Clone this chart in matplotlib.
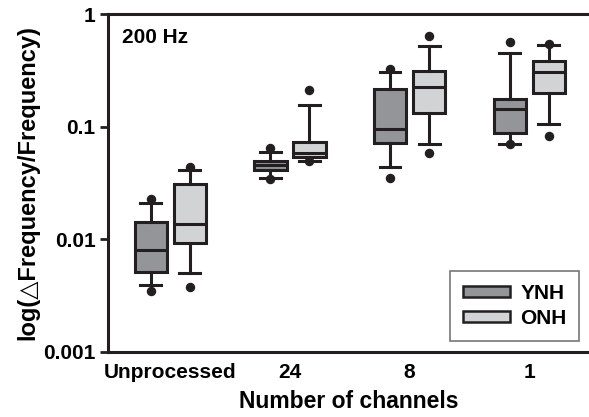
import matplotlib
matplotlib.use('Agg')
import matplotlib.pyplot as plt
from matplotlib.patches import Patch
import numpy as np

plt.rcParams['font.family'] = ['Liberation Sans', 'DejaVu Sans']
plt.rcParams['font.weight'] = 'bold'

categories = ['Unprocessed', '24', '8', '1']
groups = ['YNH', 'ONH']

# (whisker low, Q1, median, Q3, whisker high, outliers)
ynh_whislo = [0.00396, 0.0352, 0.0441, 0.0702]
ynh_q1 = [0.00516, 0.0412, 0.0711, 0.0884]
ynh_med = [0.00809, 0.0454, 0.0959, 0.1425]
ynh_q3 = [0.01435, 0.0499, 0.216, 0.177]
ynh_whishi = [0.0211, 0.0600, 0.3076, 0.454]
ynh_out_lo = [0.0035, 0.0346, 0.0352, 0.0706]
ynh_out_hi = [0.0228, 0.0651, 0.325, 0.561]

onh_whislo = [0.00503, 0.0499, 0.0702, 0.1057]
onh_q1 = [0.00933, 0.0538, 0.132, 0.199]
onh_med = [0.01377, 0.0587, 0.226, 0.3076]
onh_q3 = [0.0312, 0.0727, 0.314, 0.385]
onh_whishi = [0.0412, 0.1567, 0.524, 0.534]
onh_out_lo = [0.0038, 0.0492, 0.0587, 0.0822]
onh_out_hi = [0.0436, 0.210, 0.638, 0.545]

colors = {'YNH': '#939598', 'ONH': '#d1d3d4'}
edge = '#231f20'

def make_stats(lo, q1, med, q3, hi, olo, ohi):
    stats = []
    for i in range(len(lo)):
        stats.append(dict(whislo=lo[i], q1=q1[i], med=med[i], q3=q3[i],
                          whishi=hi[i], fliers=[olo[i], ohi[i]]))
    return stats

ynh_stats = make_stats(ynh_whislo, ynh_q1, ynh_med, ynh_q3, ynh_whishi, ynh_out_lo, ynh_out_hi)
onh_stats = make_stats(onh_whislo, onh_q1, onh_med, onh_q3, onh_whishi, onh_out_lo, onh_out_hi)

fig = plt.figure(figsize=(5.89, 4.17), dpi=100)
ax = fig.add_axes([0.1834, 0.1559, 0.8166, 0.8105])

x = np.arange(len(categories))
off = 0.163
lw = 2.2
for stats, pos, name in [(ynh_stats, x - off, 'YNH'), (onh_stats, x + off, 'ONH')]:
    ax.bxp(stats, positions=pos, widths=0.27, capwidths=0.175, patch_artist=True,
           boxprops=dict(facecolor=colors[name], edgecolor=edge, linewidth=lw),
           medianprops=dict(color=edge, linewidth=lw),
           whiskerprops=dict(color=edge, linewidth=lw),
           capprops=dict(color=edge, linewidth=lw),
           flierprops=dict(marker='o', markerfacecolor=edge, markeredgecolor=edge,
                           markersize=5.8, linestyle='none'),
           manage_ticks=False)

ax.set_yscale('log')
ax.set_ylim(0.001, 1)
ax.set_xlim(-0.52, 3.5)
ax.set_yticks([0.001, 0.01, 0.1, 1])
ax.set_yticklabels(['0.001', '0.01', '0.1', '1'])
ax.yaxis.set_minor_locator(matplotlib.ticker.NullLocator())
ax.set_xticks(x)
ax.set_xticklabels(categories)
ax.tick_params(axis='x', length=0, pad=8, labelsize=15)
ax.tick_params(axis='y', length=6, width=2, color=edge, pad=3, labelsize=15)

for s in ['left', 'bottom', 'top']:
    ax.spines[s].set_linewidth(2.2)
    ax.spines[s].set_color(edge)
ax.spines['right'].set_visible(False)

ax.set_xlabel('Number of channels', fontsize=16.5, fontweight='bold', labelpad=6)
ax.set_ylabel('log(\u25b3Frequency/Frequency)', fontsize=17, fontweight='bold', labelpad=3)
ax.text(0.029, 0.93, '200 Hz', transform=ax.transAxes, fontsize=15, fontweight='bold',
        va='center', ha='left')

handles = [Patch(facecolor=colors[g], edgecolor=edge, linewidth=1.8) for g in groups]
leg = ax.legend(handles, groups, loc='lower right', bbox_to_anchor=(0.98, 0.0325),
                borderaxespad=0, fancybox=False, fontsize=15, handlelength=2.25,
                handleheight=0.48, borderpad=0.62, labelspacing=0.3, handletextpad=0.5)
leg.get_frame().set_edgecolor('#555555')
leg.get_frame().set_linewidth(1.2)
for t in leg.get_texts():
    t.set_fontweight('bold')

fig.savefig('out.png', dpi=100)
